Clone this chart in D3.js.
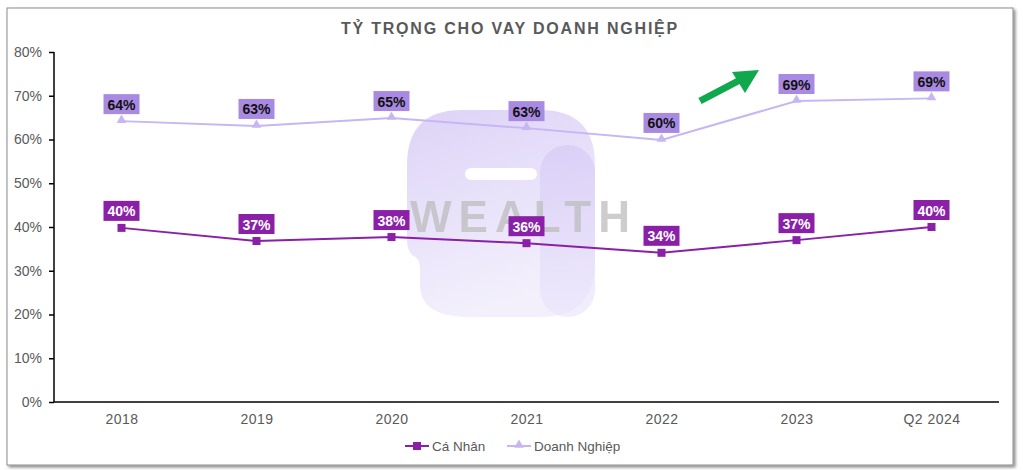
<!DOCTYPE html>
<html><head><meta charset="utf-8">
<script src="https://cdn.jsdelivr.net/npm/d3@7"></script>
<style>body{margin:0;background:#fff;}svg{display:block;font-family:"Liberation Sans",Arial,sans-serif;}</style>
</head><body><svg id="c" width="1023" height="470"></svg>
<script>
const categories = ["2018","2019","2020","2021","2022","2023","Q2 2024"];
const caNhan = [39.8, 36.8, 37.7, 36.3, 34.1, 37.0, 40.0];
const doanhNghiep = [64.2, 63.1, 64.9, 62.6, 59.9, 68.8, 69.4];
const caNhanLabels = ["40%","37%","38%","36%","34%","37%","40%"];
const dnLabels = ["64%","63%","65%","63%","60%","69%","69%"];
const yTicks = [0,10,20,30,40,50,60,70,80];

const svg = d3.select("#c");
const defs = svg.append("defs");
const f = defs.append("filter").attr("id","sh").attr("x","-5%").attr("y","-5%").attr("width","110%").attr("height","110%");
f.append("feDropShadow").attr("dx",2).attr("dy",2).attr("stdDeviation",1.5).attr("flood-color","#000").attr("flood-opacity",0.45);
const g1 = defs.append("linearGradient").attr("id","wm").attr("x1","0").attr("y1","0").attr("x2","0.3").attr("y2","1");
g1.append("stop").attr("offset","0").attr("stop-color","#ddd3f7");
g1.append("stop").attr("offset","1").attr("stop-color","#f3f0fc");
const g2 = defs.append("linearGradient").attr("id","wm2").attr("x1","0").attr("y1","0").attr("x2","0").attr("y2","1");
g2.append("stop").attr("offset","0").attr("stop-color","#d3c6f5");
g2.append("stop").attr("offset","1").attr("stop-color","#e9e3fb");

svg.append("rect").attr("x",7).attr("y",8).attr("width",1006).attr("height",457)
  .attr("fill","#fff").attr("stroke","#8c8c8c").attr("stroke-width",1).attr("filter","url(#sh)");

const m = {l:54, r:999, t:52, b:402};
const x = d3.scalePoint().domain(categories).range([m.l, m.r]).padding(0.5);
const y = d3.scaleLinear().domain([0,80]).range([m.b, m.t]);

// watermark
const wm = svg.append("g");
wm.append("path").attr("d","M462,110 H540 Q595,110 595,165 V262 Q595,317 540,317 H470 Q420,317 420,285 V268 Q420,258 412,255 Q407,250 407,240 V165 Q407,110 462,110 Z").attr("fill","url(#wm)");
wm.append("rect").attr("x",540).attr("y",145).attr("width",55).attr("height",172).attr("rx",27).attr("fill","url(#wm2)").attr("opacity",0.6);
wm.append("rect").attr("x",465).attr("y",168).attr("width",72).attr("height",12).attr("rx",6).attr("fill","#fff");
wm.append("text").attr("x",410).attr("y",232).text("WEALTH")
  .attr("font-size",44).attr("font-weight","bold").attr("letter-spacing",7).attr("fill","#bdbdbd").attr("opacity",0.75);

// title
svg.append("text").attr("x",510).attr("y",34).attr("text-anchor","middle")
  .attr("font-size",16).attr("font-weight","bold").attr("letter-spacing",1.8).attr("fill","#595959")
  .text("TỶ TRỌNG CHO VAY DOANH NGHIỆP");

// axes
const ya = svg.append("g").attr("transform",`translate(${m.l},0)`)
  .call(d3.axisLeft(y).tickValues(yTicks).tickFormat(d=>d+"%").tickSize(5).tickPadding(7));
ya.select(".domain").attr("stroke","#000").attr("stroke-width",1.5).attr("d",`M0,${m.t}V${m.b}`);
ya.selectAll(".tick line").attr("stroke","#000").attr("stroke-width",1.5);
ya.selectAll(".tick text").attr("fill","#595959").attr("font-size",14).attr("font-family","Liberation Sans, Arial");

const xa = svg.append("g").attr("transform",`translate(0,${m.b})`)
  .call(d3.axisBottom(x).tickSize(0).tickPadding(12));
xa.select(".domain").attr("stroke","#000").attr("stroke-width",1.5).attr("d",`M${m.l},0H${m.r}`);
xa.selectAll(".tick text").attr("fill","#595959").attr("font-size",14).attr("letter-spacing",0.5).attr("font-family","Liberation Sans, Arial");

const line = d3.line().x((d,i)=>x(categories[i])).y(d=>y(d));
const cCN = "#8a1fa8", cDN = "#c7b6f2";

svg.append("path").datum(doanhNghiep).attr("d",line).attr("fill","none").attr("stroke",cDN).attr("stroke-width",2);
svg.append("path").datum(caNhan).attr("d",line).attr("fill","none").attr("stroke",cCN).attr("stroke-width",2);

const tri = d3.symbol().type(d3.symbolTriangle).size(40);
svg.selectAll(".mdn").data(doanhNghiep).join("path").attr("d",tri)
  .attr("transform",(d,i)=>`translate(${x(categories[i])},${y(d)-1})`).attr("fill",cDN);
svg.selectAll(".mcn").data(caNhan).join("rect")
  .attr("x",(d,i)=>x(categories[i])-4).attr("y",d=>y(d)-4).attr("width",8).attr("height",8).attr("fill",cCN);

function labels(vals, texts, fill, tc){
  const g = svg.append("g");
  vals.forEach((v,i)=>{
    const cx = x(categories[i]), cy = y(v)-17;
    g.append("rect").attr("x",cx-18).attr("y",cy-10).attr("width",36).attr("height",20).attr("fill",fill);
    g.append("text").attr("x",cx).attr("y",cy+5.5).attr("text-anchor","middle").attr("font-size",14)
      .attr("font-weight","bold").attr("fill",tc).text(texts[i]);
  });
}
labels(doanhNghiep, dnLabels, "#a98ae2", "#111");
labels(caNhan, caNhanLabels, "#8a1fa8", "#fff");

// green arrow
svg.append("line").attr("x1",700).attr("y1",101).attr("x2",740).attr("y2",80)
  .attr("stroke","#10a84c").attr("stroke-width",7);
svg.append("path").attr("d","M759,70 L732,72 L745,93 Z").attr("fill","#10a84c");

// legend
const lg = svg.append("g").attr("font-size",13.5).attr("fill","#595959");
lg.append("line").attr("x1",405).attr("x2",429).attr("y1",446).attr("y2",446).attr("stroke",cCN).attr("stroke-width",2);
lg.append("rect").attr("x",413).attr("y",442).attr("width",8).attr("height",8).attr("fill",cCN);
lg.append("text").attr("x",432).attr("y",451).text("Cá Nhân");
lg.append("line").attr("x1",507).attr("x2",531).attr("y1",446).attr("y2",446).attr("stroke",cDN).attr("stroke-width",2);
lg.append("path").attr("d",tri).attr("transform","translate(519,445)").attr("fill",cDN);
lg.append("text").attr("x",534).attr("y",451).text("Doanh Nghiệp");
</script></body></html>
